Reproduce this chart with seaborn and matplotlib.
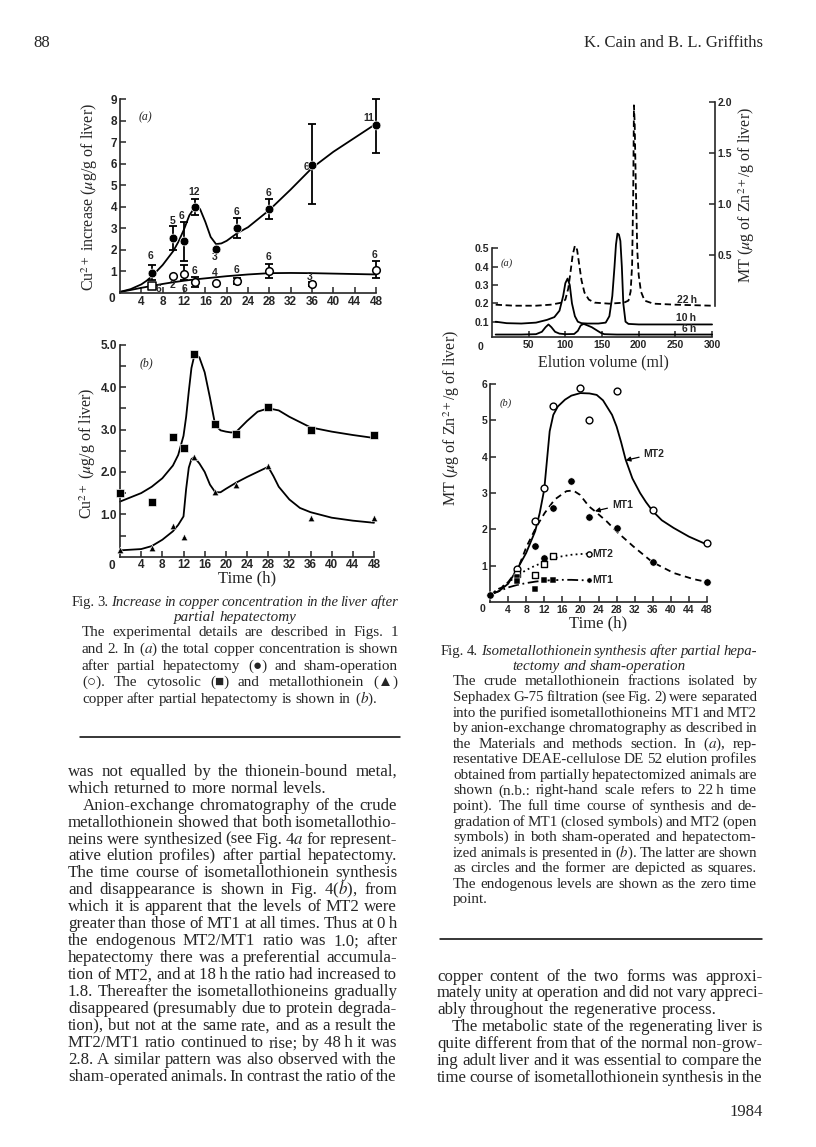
import numpy as np
import matplotlib
matplotlib.use('Agg')
import matplotlib.pyplot as plt
import seaborn as sns

# ---- Fig. 3(a): total copper increase ----
t_hep = [6, 10, 12, 14, 18, 22, 28, 36, 48]
cu_hep = [0.95, 2.55, 2.4, 4.0, 2.05, 3.02, 3.88, 5.95, 7.78]
cu_hep_hi = [1.3, 3.1, 3.28, 4.38, np.nan, 3.48, 4.34, 7.85, 9.0]
cu_hep_lo = [0.6, 2.0, 1.5, 3.6, np.nan, 2.55, 3.42, 4.12, 6.5]
n_hep = ['6', '5', '6', '12', '3', '6', '6', '6', '11']
n_hep_xy = [(5.8, 1.7), (9.8, 3.35), (11.6, 3.55), (13.9, 4.7), (17.8, 1.66),
            (21.9, 3.77), (27.9, 4.62), (34.9, 5.85), (46.6, 8.12)]
curve_hep_t = [0, 2, 4, 5, 6, 8, 10, 11, 12, 13, 14, 14.5, 15, 16, 17, 18, 19, 20,
               22, 24, 28, 32, 36, 40, 44, 48]
curve_hep = [0.05, 0.18, 0.4, 0.57, 0.78, 1.3, 1.95, 2.4, 2.95, 3.6, 3.97, 4.0, 3.9,
             3.3, 2.6, 2.27, 2.3, 2.42, 2.78, 3.05, 3.85, 4.8, 5.8, 6.55, 7.2, 7.85]

t_sham = [10, 12, 14, 18, 22, 28, 36, 48]
cu_sham = [0.77, 0.9, 0.52, 0.48, 0.57, 1.0, 0.42, 1.06]
cu_sham_hi = [np.nan, 1.28, 0.76, np.nan, 0.7, 1.35, 0.5, 1.47]
cu_sham_lo = [np.nan, 0.62, 0.3, np.nan, 0.4, 0.68, 0.32, 0.68]
t_sham_sq = [6]
cu_sham_sq = [0.33]
n_sham = ['6', '2', '6', '6', '4', '6', '6', '3', '6']
n_sham_xy = [(7.2, 0.2), (9.9, 0.36), (12, 0.18), (13.9, 1.0), (17.8, 0.94),
             (21.9, 1.05), (27.9, 1.67), (35.6, 0.72), (47.8, 1.78)]
curve_sham_t = [0, 2, 4, 6, 8, 10, 12, 14, 16, 18, 20, 24, 28, 32, 36, 40, 44, 48]
curve_sham = [0.05, 0.14, 0.24, 0.33, 0.42, 0.5, 0.57, 0.63, 0.68, 0.73, 0.78, 0.86,
              0.92, 0.93, 0.92, 0.9, 0.88, 0.86]

# ---- Fig. 3(b): cytosolic and metallothionein copper ----
t_b = [0, 6, 10, 12, 14, 18, 22, 28, 36, 48]
cyto = [1.51, 1.3, 2.82, 2.56, 4.78, 3.12, 2.9, 3.54, 2.99, 2.88]
mtcu = [0.16, 0.21, 0.73, 0.47, 2.36, 1.52, 1.68, 2.14, 0.91, 0.91]
curve_cyto_t = [0, 2, 4, 6, 8, 10, 11, 12, 12.5, 13, 13.5, 14, 14.5, 15, 16, 17, 18,
                19, 20, 21, 22, 24, 26, 28, 30, 32, 36, 40, 44, 48]
curve_cyto = [1.3, 1.4, 1.5, 1.65, 1.85, 2.15, 2.4, 2.85, 3.3, 3.9, 4.45, 4.72, 4.75,
              4.7, 4.35, 3.75, 3.1, 2.98, 2.95, 2.93, 2.95, 3.2, 3.42, 3.5, 3.45, 3.3,
              3.05, 2.95, 2.87, 2.8]
curve_mt_t = [0, 4, 6, 8, 10, 11, 12, 12.5, 13, 13.5, 14, 15, 16, 17, 18, 19, 20, 22,
              24, 26, 28, 29, 30, 32, 34, 36, 40, 44, 48]
curve_mt = [0.15, 0.18, 0.25, 0.4, 0.6, 0.75, 0.95, 1.6, 2.1, 2.3, 2.35, 2.2, 2.0, 1.7,
            1.52, 1.52, 1.6, 1.75, 1.88, 2.0, 2.12, 1.9, 1.65, 1.35, 1.15, 1.05, 0.92,
            0.85, 0.8]

# ---- Fig. 4(a): DEAE-cellulose elution profiles ----
vol_6h = [5, 40, 60, 68, 73, 77, 81, 86, 92, 100, 112, 117, 121, 125, 130, 136, 142,
          148, 153, 170, 300]
abs_6h = [0.03, 0.03, 0.032, 0.045, 0.07, 0.085, 0.07, 0.045, 0.035, 0.032, 0.033,
          0.05, 0.08, 0.088, 0.08, 0.07, 0.055, 0.04, 0.032, 0.03, 0.03]
vol_10h = [5, 20, 40, 60, 75, 85, 92, 97, 100, 103, 106, 109, 113, 117, 122, 130, 145,
           155, 160, 164, 167, 169, 171, 173, 175, 177, 179, 182, 186, 200, 250, 300]
abs_10h = [0.1, 0.092, 0.09, 0.095, 0.11, 0.125, 0.16, 0.24, 0.31, 0.335, 0.3, 0.2,
           0.13, 0.1, 0.092, 0.09, 0.09, 0.095, 0.13, 0.24, 0.4, 0.52, 0.58, 0.575,
           0.54, 0.4, 0.2, 0.1, 0.088, 0.085, 0.085, 0.085]
vol_22h = [5, 30, 60, 80, 95, 100, 104, 107, 110, 113, 116, 119, 122, 126, 132, 140,
           160, 180, 186, 189, 191, 192.5, 193.5, 194.5, 196, 198, 200, 203, 208, 220,
           250, 300]
mt_22h = [0.01, 0.0, 0.0, 0.01, 0.03, 0.06, 0.17, 0.33, 0.5, 0.59, 0.55, 0.4, 0.25,
          0.13, 0.06, 0.03, 0.02, 0.03, 0.05, 0.14, 0.4, 1.1, 1.97, 1.8, 1.2, 0.55, 0.3,
          0.14, 0.05, 0.02, 0.01, 0.0]

# ---- Fig. 4(b): isometallothionein time course ----
t_mt2 = [6, 10, 12, 14, 20, 22, 28, 36, 48]
mt2 = [0.9, 2.22, 3.13, 5.4, 5.88, 5.0, 5.8, 2.53, 1.62]
t_mt1 = [0, 10, 12, 14, 18, 22, 28, 36, 48]
mt1 = [0.19, 1.55, 1.22, 2.58, 3.32, 2.33, 2.03, 1.1, 0.56]
t_sham_mt2 = [6, 10, 12, 14]
sham_mt2 = [0.78, 0.74, 1.05, 1.27]
t_sham_mt1 = [6, 6, 10, 12, 14]
sham_mt1 = [0.68, 0.58, 0.36, 0.61, 0.6]
curve_mt2_t = [0, 2, 4, 6, 8, 10, 11, 12, 12.6, 13.2, 14, 15, 16.6, 18, 20, 22, 23.6,
               25, 25.8, 27, 28, 29, 30, 31.5, 33.2, 34.5, 36, 38, 40.6, 44, 48]
curve_mt2 = [0.2, 0.3, 0.5, 0.9, 1.35, 1.95, 2.45, 3.1, 3.9, 4.7, 5.15, 5.38, 5.57,
             5.68, 5.75, 5.74, 5.7, 5.55, 5.39, 5.15, 4.83, 4.4, 3.92, 3.4, 3.0, 2.75,
             2.5, 2.25, 2.04, 1.8, 1.58]
curve_mt1_t = [0, 3.6, 6.1, 8.1, 10.3, 12.1, 14.3, 16.9, 18.4, 19.9, 21.9, 23.1, 25.8,
               28, 31.7, 35.9, 40.6, 45, 48]
curve_mt1 = [0.2, 0.48, 0.89, 1.53, 2.08, 2.45, 2.82, 3.05, 3.07, 2.95, 2.63, 2.51,
             2.22, 1.94, 1.53, 1.1, 0.8, 0.63, 0.55]
curve_sham_mt2_t = [0, 3, 6, 8, 10, 12, 14, 16, 18, 20, 22]
curve_sham_mt2 = [0.2, 0.45, 0.72, 0.88, 1.0, 1.1, 1.2, 1.26, 1.3, 1.32, 1.33]
curve_sham_mt1_t = [0, 2, 4, 6, 8, 10, 12, 14, 16, 18, 20, 22]
curve_sham_mt1 = [0.2, 0.3, 0.4, 0.47, 0.52, 0.56, 0.59, 0.6, 0.61, 0.61, 0.6, 0.6]

hours = list(range(0, 49, 4))

# ---- page text ----
left_body = [
    "was not equalled by the thionein-bound metal,",
    "which returned to more normal levels.",
    "Anion-exchange chromatography of the crude",
    "metallothionein showed that both isometallothio-",
    r"neins were synthesized (see Fig. 4$\it{a}$ for represent-",
    "ative elution profiles) after partial hepatectomy.",
    "The time course of isometallothionein synthesis",
    r"and disappearance is shown in Fig. 4($\it{b}$), from",
    "which it is apparent that the levels of MT2 were",
    "greater than those of MT1 at all times. Thus at 0\u2009h",
    "the endogenous MT2/MT1 ratio was 1.0; after",
    "hepatectomy there was a preferential accumula-",
    "tion of MT2, and at 18\u2009h the ratio had increased to",
    "1.8. Thereafter the isometallothioneins gradually",
    "disappeared (presumably due to protein degrada-",
    "tion), but not at the same rate, and as a result the",
    "MT2/MT1 ratio continued to rise; by 48\u2009h it was",
    "2.8. A similar pattern was also observed with the",
    "sham-operated animals. In contrast the ratio of the",
]
right_body = [
    "copper content of the two forms was approxi-",
    "mately unity at operation and did not vary appreci-",
    "ably throughout the regenerative process.",
    "The metabolic state of the regenerating liver is",
    "quite different from that of the normal non-grow-",
    "ing adult liver and it was essential to compare the",
    "time course of isometallothionein synthesis in the",
]
cap3_title = ["Fig. 3. Increase in copper concentration in the liver after",
              "partial hepatectomy"]
cap3_body = [
    "The experimental details are described in Figs. 1",
    r"and 2. In ($\it{a}$) the total copper concentration is shown",
    "after partial hepatectomy (\u25cf) and sham-operation",
    "(\u25cb). The cytosolic (\u25a0) and metallothionein (\u25b2)",
    r"copper after partial hepatectomy is shown in ($\it{b}$).",
]
cap4_title = ["Fig. 4. Isometallothionein synthesis after partial hepa-",
              "tectomy and sham-operation"]
cap4_body = [
    "The crude metallothionein fractions isolated by",
    "Sephadex G-75 filtration (see Fig. 2) were separated",
    "into the purified isometallothioneins MT1 and MT2",
    "by anion-exchange chromatography as described in",
    r"the Materials and methods section. In ($\it{a}$), rep-",
    "resentative DEAE-cellulose DE 52 elution profiles",
    "obtained from partially hepatectomized animals are",
    "shown (n.b.: right-hand scale refers to 22\u2009h time",
    "point). The full time course of synthesis and de-",
    "gradation of MT1 (closed symbols) and MT2 (open",
    "symbols) in both sham-operated and hepatectom-",
    r"ized animals is presented in ($\it{b}$). The latter are shown",
    "as circles and the former are depicted as squares.",
    "The endogenous levels are shown as the zero time",
    "point.",
]

sns.set_style('ticks')
plt.rcParams['font.family'] = ['Liberation Serif', 'DejaVu Sans']
plt.rcParams['mathtext.fontset'] = 'stix'
plt.rcParams['axes.linewidth'] = 1.2

W, H = 816, 1147
fig = plt.figure(figsize=(W / 100, H / 100), dpi=100)
TICKFONT = dict(family='Liberation Sans', fontweight='bold')
CAP = 10.9
BODY = 12.2


def add_ax(left, top, right, bottom):
    ax = fig.add_axes([left / W, 1 - bottom / H, (right - left) / W, (bottom - top) / H])
    ax.set_facecolor('none')
    return ax


def ptext(x, y, s, **kw):
    return fig.text(x / W, 1 - y / H, s, **kw)


def put_line(text, x0, x1, y, size, justify=True, indent=0, italic_from=99, center=False):
    words = text.split(' ')
    r = fig.canvas.get_renderer()
    base = y + 0.23 * size * 100 / 72
    arts = [ptext(0, base, w, fontsize=size, va='baseline',
                  style='italic' if i >= italic_from else 'normal')
            for i, w in enumerate(words)]
    widths = [a.get_window_extent(r).width for a in arts]
    space = 0.25 * size * 100 / 72
    need = sum(widths) + 0.7 * space * (len(words) - 1)
    avail = x1 - x0 - indent
    if need > avail:
        # squeeze the type a little when the line would not fit
        f = avail / need
        for a in arts:
            a.set_fontsize(size * f)
        widths = [a.get_window_extent(r).width for a in arts]
        space *= f
    x = x0 + indent
    gap = space
    if center:
        x = (x0 + x1) / 2 - (sum(widths) + space * (len(words) - 1)) / 2
    elif justify and len(words) > 1:
        gap = (x1 - x - sum(widths)) / (len(words) - 1)
    for a, w in zip(arts, widths):
        a.set_x(x / W)
        x += w + gap


def style_ax(ax, xt, xl, yt, yl, size):
    ax.set_xticks(xt, xl, fontsize=size, **TICKFONT)
    ax.set_yticks(yt, yl, fontsize=size, **TICKFONT)
    ax.tick_params(direction='in', length=4, width=1.1, pad=2)
    sns.despine(ax=ax)


def errbars(ax, t, hi, lo):
    for x, h, l in zip(t, hi, lo):
        if np.isnan(h):
            continue
        ax.errorbar([x], [(h + l) / 2], yerr=[[(h - l) / 2], [(h - l) / 2]], fmt='none',
                    ecolor='black', elinewidth=1.3, capsize=3, capthick=1.3, clip_on=False)


line_kw = dict(color='black', lw=1.3, sort=False, estimator=None, clip_on=False)

# ===== Fig 3(a) =====
ax = add_ax(120, 99, 376, 293)
sns.lineplot(x=curve_hep_t, y=curve_hep, ax=ax, **line_kw)
sns.lineplot(x=curve_sham_t, y=curve_sham, ax=ax, **line_kw)
errbars(ax, t_hep, cu_hep_hi, cu_hep_lo)
errbars(ax, t_sham, cu_sham_hi, cu_sham_lo)
sns.scatterplot(x=t_hep, y=cu_hep, ax=ax, color='black', s=40, marker='o', zorder=5, clip_on=False)
sns.scatterplot(x=t_sham, y=cu_sham, ax=ax, color='white', edgecolor='black', linewidth=1.1,
                s=30, marker='o', zorder=5, clip_on=False)
sns.scatterplot(x=t_sham_sq, y=cu_sham_sq, ax=ax, color='white', edgecolor='black',
                linewidth=1.1, s=28, marker='s', zorder=5)
for s, (x, y) in zip(n_hep + n_sham, n_hep_xy + n_sham_xy):
    ax.text(x, y, s, ha='center', va='center', fontsize=7.5, **TICKFONT)
ax.set_xlim(0, 48)
ax.set_ylim(0, 9)
style_ax(ax, hours[1:], [str(h) for h in hours[1:]], range(1, 10),
         [str(v) for v in range(1, 10)], 8.5)
ax.text(4.7, 8.17, '(a)', style='italic', fontsize=8.5, ha='center', va='center')
ptext(112, 299, '0', fontsize=8.5, ha='center', va='center', **TICKFONT)
ptext(90, 197, r'Cu$^{2+}$ increase ($\mu$g/g of liver)', rotation=90, ha='center',
      va='center', fontsize=11.5)

# ===== Fig 3(b) =====
ax = add_ax(120, 344.7, 374, 556.7)
sns.lineplot(x=curve_cyto_t, y=curve_cyto, ax=ax, **line_kw)
sns.lineplot(x=curve_mt_t, y=curve_mt, ax=ax, **line_kw)
sns.scatterplot(x=t_b, y=cyto, ax=ax, color='black', marker='s', s=32, zorder=5, clip_on=False)
sns.scatterplot(x=t_b, y=mtcu, ax=ax, color='black', marker='^', s=22, zorder=5, clip_on=False)
ax.set_xlim(0, 48)
ax.set_ylim(0, 5)
style_ax(ax, hours[1:], [str(h) for h in hours[1:]], [1, 2, 3, 4, 5],
         ['1.0', '2.0', '3.0', '4.0', '5.0'], 8.5)
ax.set_yticks(np.arange(0.5, 5, 1.0), minor=True)
ax.tick_params(which='minor', direction='in', length=4, width=1.1)
ax.text(5, 4.57, '(b)', style='italic', fontsize=8.5, ha='center', va='center')
ptext(112, 566, '0', fontsize=8.5, ha='center', va='center', **TICKFONT)
ptext(88, 453, r'Cu$^{2+}$ ($\mu$g/g of liver)', rotation=90, ha='center', va='center',
      fontsize=11.5)
ptext(247, 578, 'Time (h)', ha='center', va='center', fontsize=12)

# ===== Fig 4(a) =====
ax = add_ax(492, 248.3, 715, 337.3)
axr = add_ax(492, 102.3, 715, 305.7)
sns.lineplot(x=vol_6h, y=abs_6h, ax=ax, **line_kw)
sns.lineplot(x=vol_10h, y=abs_10h, ax=ax, **line_kw)
sns.lineplot(x=vol_22h, y=mt_22h, ax=axr, linestyle=(0, (3.5, 2)), **line_kw)
ax.set_xlim(0, 304)
ax.set_ylim(0.015, 0.5)
axr.set_xlim(0, 304)
axr.set_ylim(0, 2.0)
style_ax(ax, range(50, 301, 50), [str(v) for v in range(50, 301, 50)],
         [0.1, 0.2, 0.3, 0.4, 0.5], ['0.1', '0.2', '0.3', '0.4', '0.5'], 7.5)
ax.spines['bottom'].set_bounds(0, 300)
for sp in ['left', 'top', 'bottom']:
    axr.spines[sp].set_visible(False)
axr.spines['right'].set_visible(True)
axr.set_xticks([])
axr.yaxis.tick_right()
axr.set_yticks([0.5, 1.0, 1.5, 2.0], ['0.5', '1.0', '1.5', '2.0'], fontsize=7.5, **TICKFONT)
axr.tick_params(direction='in', length=4, width=1.1, pad=2)
for s, x, y in [('22\u2009h', 266, 0.218), ('10\u2009h', 264, 0.119), ('6\u2009h', 269, 0.058)]:
    ax.text(x, y, s, ha='center', va='center', fontsize=7.5, **TICKFONT)
ax.text(20, 0.42, '(a)', style='italic', fontsize=7.5, ha='center', va='center')
ptext(481, 347, '0', fontsize=7.5, ha='center', va='center', **TICKFONT)
ptext(603, 362, 'Elution volume (ml)', ha='center', va='center', fontsize=11.5)
ptext(747, 195, r'MT ($\mu$g of Zn$^{2+}$/g of liver)', rotation=90, ha='center',
      va='center', fontsize=11.5)

# ===== Fig 4(b) =====
ax = add_ax(490, 384, 707, 602)
sns.lineplot(x=curve_mt2_t, y=curve_mt2, ax=ax, **line_kw)
sns.lineplot(x=curve_mt1_t, y=curve_mt1, ax=ax, linestyle=(0, (3.5, 2.5)), **line_kw)
sns.lineplot(x=curve_sham_mt2_t, y=curve_sham_mt2, ax=ax, linestyle=(0, (1, 1.8)), **line_kw)
sns.lineplot(x=curve_sham_mt1_t, y=curve_sham_mt1, ax=ax, linestyle=(0, (6, 2, 1, 2)), **line_kw)
sns.scatterplot(x=t_mt2, y=mt2, ax=ax, color='white', edgecolor='black', linewidth=1.0,
                s=24, marker='o', zorder=5, clip_on=False)
sns.scatterplot(x=t_mt1, y=mt1, ax=ax, color='black', s=28, marker='o', zorder=5, clip_on=False)
sns.scatterplot(x=t_sham_mt2, y=sham_mt2, ax=ax, color='white', edgecolor='black',
                linewidth=1.0, s=20, marker='s', zorder=5)
sns.scatterplot(x=t_sham_mt1, y=sham_mt1, ax=ax, color='black', s=20, marker='s', zorder=5)
sns.scatterplot(x=[22], y=[1.33], ax=ax, color='white', edgecolor='black', linewidth=1.0,
                s=14, marker='o', zorder=5)
sns.scatterplot(x=[22], y=[0.6], ax=ax, color='black', s=14, marker='o', zorder=5)
ax.text(22.7, 1.33, 'MT2', fontsize=7.5, va='center', **TICKFONT)
ax.text(22.7, 0.6, 'MT1', fontsize=7.5, va='center', **TICKFONT)
ax.annotate('MT2', xy=(30.0, 3.9), xytext=(34.0, 4.08), fontsize=7.5, va='center',
            arrowprops=dict(arrowstyle='-|>', lw=0.9, color='black', mutation_scale=7,
                            shrinkA=1, shrinkB=0), **TICKFONT)
ax.annotate('MT1', xy=(23.2, 2.5), xytext=(27.0, 2.68), fontsize=7.5, va='center',
            arrowprops=dict(arrowstyle='-|>', lw=0.9, color='black', mutation_scale=7,
                            shrinkA=1, shrinkB=0), **TICKFONT)
ax.set_xlim(0, 48)
ax.set_ylim(0, 6)
style_ax(ax, hours[1:], [str(h) for h in hours[1:]], range(1, 7),
         [str(v) for v in range(1, 7)], 7.5)
ax.text(3.5, 5.48, '(b)', style='italic', fontsize=7.5, ha='center', va='center')
ptext(483, 609, '0', fontsize=7.5, ha='center', va='center', **TICKFONT)
ptext(452, 418, r'MT ($\mu$g of Zn$^{2+}$/g of liver)', rotation=90, ha='center',
      va='center', fontsize=11.5)
ptext(598, 623, 'Time (h)', ha='center', va='center', fontsize=12)

# ===== captions, rules and body text =====
put_line(cap3_title[0], 72, 398, 603, CAP, italic_from=2)
put_line(cap3_title[1], 72, 398, 618, CAP, italic_from=0, center=True)
for i, (txt, y) in enumerate(zip(cap3_body, np.linspace(633, 699.3, len(cap3_body)))):
    put_line(txt, 82, 398, y, CAP, justify=i < len(cap3_body) - 1)

put_line(cap4_title[0], 441, 757, 652, CAP, italic_from=2)
put_line(cap4_title[1], 441, 757, 667, CAP, italic_from=0, center=True)
for i, (txt, y) in enumerate(zip(cap4_body, np.linspace(682, 900, len(cap4_body)))):
    put_line(txt, 453, 757, y, CAP, justify=i < len(cap4_body) - 1)

for i, (txt, y) in enumerate(zip(left_body, np.linspace(771.7, 1077.3, len(left_body)))):
    put_line(txt, 68, 397, y, BODY, justify=i != 1, indent=15 if i == 2 else 0)
for i, (txt, y) in enumerate(zip(right_body, np.linspace(976.7, 1077.7, len(right_body)))):
    put_line(txt, 437, 763, y, BODY, justify=i != 2, indent=15 if i == 3 else 0)

fig.add_artist(plt.Line2D([80 / W, 400 / W], [1 - 737 / H] * 2, color='black', lw=1.1))
fig.add_artist(plt.Line2D([440 / W, 762 / W], [1 - 939 / H] * 2, color='black', lw=1.1))

ptext(33, 43, '88', fontsize=12, va='center')
ptext(763, 43, 'K. Cain and B. L. Griffiths', fontsize=12, ha='right', va='center')
ptext(763, 1112, '1984', fontsize=12, ha='right', va='center')

fig.savefig('out.png', dpi=100)
